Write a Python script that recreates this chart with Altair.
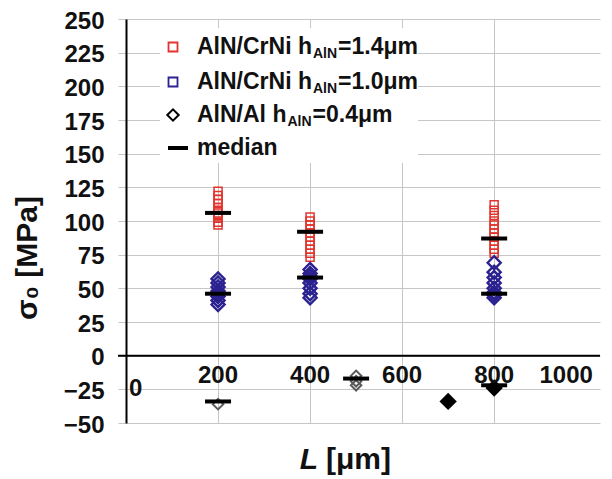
import altair as alt
import pandas as pd

# ---------------- data ----------------
red_L = [200, 200, 200, 200, 200, 200, 200, 200, 200, 200, 200,
         400, 400, 400, 400, 400, 400, 400, 400, 400, 400, 400,
         800, 800, 800, 800, 800, 800, 800, 800, 800, 800, 800, 800]
red_s = [97, 99, 102, 104, 106, 108, 110, 113, 116, 119, 122,
         73, 76, 79, 82, 85, 88, 91, 94, 97, 100, 103,
         76, 79, 82, 85, 88, 91, 94, 97, 100, 104, 108, 112]

blue_L = [200, 200, 200, 200, 200, 200, 200, 200,
          400, 400, 400, 400, 400, 400, 400, 400,
          800, 800, 800, 800, 800, 800, 800, 800]
blue_s = [57, 54, 51, 48, 46, 44, 41, 38,
          64, 61, 59, 57, 54, 50, 46, 43,
          69, 62, 58, 54, 50, 47, 45, 43]

al_open_L = [200, 500, 500, 500]
al_open_s = [-36, -15, -19, -22]
al_solid_L = [700, 800]
al_solid_s = [-34, -24]

median_L = [200, 200, 200, 400, 400, 500, 800, 800, 800]
median_s = [106, 46, -34, 92, 58, -17, 87, 46, -22]

y_ticks = [-50, -25, 0, 25, 50, 75, 100, 125, 150, 175, 200, 225, 250]
x_grid = [200, 400, 600, 800]
x_labels = ["200", "400", "600", "800"]

legend_main = ["AlN/CrNi h", "AlN/CrNi h", "AlN/Al h", "median"]
legend_sub = ["AlN", "AlN", "AlN"]
legend_rest = ["=1.4\u03bcm", "=1.0\u03bcm", "=0.4\u03bcm"]

# ---------------- style ----------------
FONT = "Liberation Sans"
RED = "#e2342e"
BLUE = "#2b2290"
GRID = "#c6c6c6"
W, H = 474, 404

xs = alt.Scale(domain=[0, 1030], nice=False, zero=False)
ys = alt.Scale(domain=[-50, 250], nice=False, zero=False)

x_enc = alt.X("L:Q", scale=xs, axis=alt.Axis(values=x_grid, grid=True, gridColor=GRID,
                                             gridWidth=1, labels=False, ticks=False,
                                             domain=False, title=None))
y_enc = alt.Y("s:Q", scale=ys, axis=alt.Axis(values=y_ticks, grid=True, gridColor=GRID,
                                             gridWidth=1, tickColor=GRID, tickSize=8,
                                             domainColor="black", domainWidth=2,
                                             labelFont=FONT, labelFontSize=24,
                                             labelFontWeight="bold", labelColor="#111",
                                             labelPadding=14, labelOffset=2, labelFlush=False,
                                             title=None))

one = pd.DataFrame({"a": [0]})

red_df = pd.DataFrame({"L": red_L, "s": red_s})
blue_df = pd.DataFrame({"L": blue_L, "s": blue_s})
alo_df = pd.DataFrame({"L": al_open_L, "s": al_open_s})
als_df = pd.DataFrame({"L": al_solid_L, "s": al_solid_s})
med_df = pd.DataFrame({"L": median_L, "s": median_s})
xlab_df = pd.DataFrame({"L": x_grid, "s": [0] * len(x_grid), "t": x_labels})

legend_bg = alt.Chart(one).mark_rect(fill="white").encode(
    x=alt.value(34), x2=alt.value(292), y=alt.value(9), y2=alt.value(144))

zero_line = alt.Chart(pd.DataFrame({"s": [0]})).mark_rule(color="black", strokeWidth=2).encode(
    y=y_enc, x=alt.value(-8), x2=alt.value(W))

red_pts = alt.Chart(red_df).mark_point(shape="square", filled=False, color=RED,
                                       size=64, strokeWidth=1.5, opacity=1).encode(x=x_enc, y=y_enc)
blue_pts = alt.Chart(blue_df).mark_point(shape="diamond", filled=False, color=BLUE,
                                         size=170, strokeWidth=2.4, opacity=1).encode(x=x_enc, y=y_enc)
alo_pts = alt.Chart(alo_df).mark_point(shape="diamond", filled=False, color="#5a5a5a",
                                       size=110, strokeWidth=2, opacity=1).encode(x=x_enc, y=y_enc)
als_pts = alt.Chart(als_df).mark_point(shape="diamond", filled=True, color="black",
                                       size=300, opacity=1).encode(x=x_enc, y=y_enc)
med_ticks = alt.Chart(med_df).mark_tick(orient="horizontal", color="black", size=26,
                                        thickness=4, opacity=1).encode(x=x_enc, y=y_enc)

xlabels = alt.Chart(xlab_df).mark_text(font=FONT, fontSize=24, fontWeight="bold", color="#111",
                                       baseline="top", align="center", dy=8).encode(
    x=x_enc, y=y_enc, text="t:N")
lab0 = alt.Chart(pd.DataFrame({"L": [0], "s": [0], "t": ["0"]})).mark_text(
    font=FONT, fontSize=24, fontWeight="bold", color="#111", baseline="middle",
    align="left", dx=3, dy=33).encode(x=x_enc, y=y_enc, text="t:N")
lab1000 = alt.Chart(pd.DataFrame({"L": [1000], "s": [0], "t": ["1000"]})).mark_text(
    font=FONT, fontSize=24, fontWeight="bold", color="#111", baseline="top",
    align="center", dx=-20, dy=8).encode(x=x_enc, y=y_enc, text="t:N")


def txt(s, x, y, size, style="normal", align="left", angle=0):
    return alt.Chart(pd.DataFrame({"t": [s]})).mark_text(
        font=FONT, fontSize=size, fontWeight="bold", fontStyle=style, color="#111",
        align=align, baseline="middle", angle=angle).encode(
        x=alt.value(x), y=alt.value(y), text="t:N")


# axis titles
ytitle = txt("\u03c3\u2080 [MPa]", -98, 239, 30, align="center", angle=270)
xtitle_L = txt("L", 192, 441, 30, style="italic", align="right")
xtitle_u = txt("[\u03bcm]", 200, 441, 30)

# legend
rows_y = [28, 63, 96, 129]
MAIN, SUB = 23, 14
main_w = [5.0 * MAIN, 5.0 * MAIN, 3.889 * MAIN]
sub_w = 1.722 * SUB
TX = 71
leg = [
    alt.Chart(one).mark_point(shape="square", filled=False, color=RED, size=81,
                              strokeWidth=1.8, opacity=1).encode(x=alt.value(47), y=alt.value(rows_y[0])),
    alt.Chart(one).mark_point(shape="square", filled=False, color=BLUE, size=81,
                              strokeWidth=1.8, opacity=1).encode(x=alt.value(47), y=alt.value(rows_y[1])),
    alt.Chart(one).mark_point(shape="diamond", filled=False, color="black", size=130,
                              strokeWidth=2, opacity=1).encode(x=alt.value(47), y=alt.value(rows_y[2])),
    alt.Chart(one).mark_rule(color="black", strokeWidth=4).encode(
        x=alt.value(42), x2=alt.value(62), y=alt.value(rows_y[3])),
]
for i in range(3):
    leg.append(txt(legend_main[i], TX, rows_y[i], MAIN))
    leg.append(txt(legend_sub[i], TX + main_w[i] + 1, rows_y[i] + 7, SUB))
    leg.append(txt(legend_rest[i], TX + main_w[i] + sub_w + 2, rows_y[i], MAIN))
leg.append(txt(legend_main[3], TX, rows_y[3], MAIN))

chart = alt.layer(
    legend_bg, red_pts, blue_pts, alo_pts, als_pts, med_ticks, zero_line,
    xlabels, lab0, lab1000, ytitle, xtitle_L, xtitle_u, *leg
).properties(
    width=W, height=H,
    autosize=alt.AutoSizeParams(type="none"),
    padding={"left": 118, "top": 11, "right": 4, "bottom": 56},
    background="white",
).configure_view(stroke=None)

chart.save("out.html", embed_options={"renderer": "svg", "actions": False})
